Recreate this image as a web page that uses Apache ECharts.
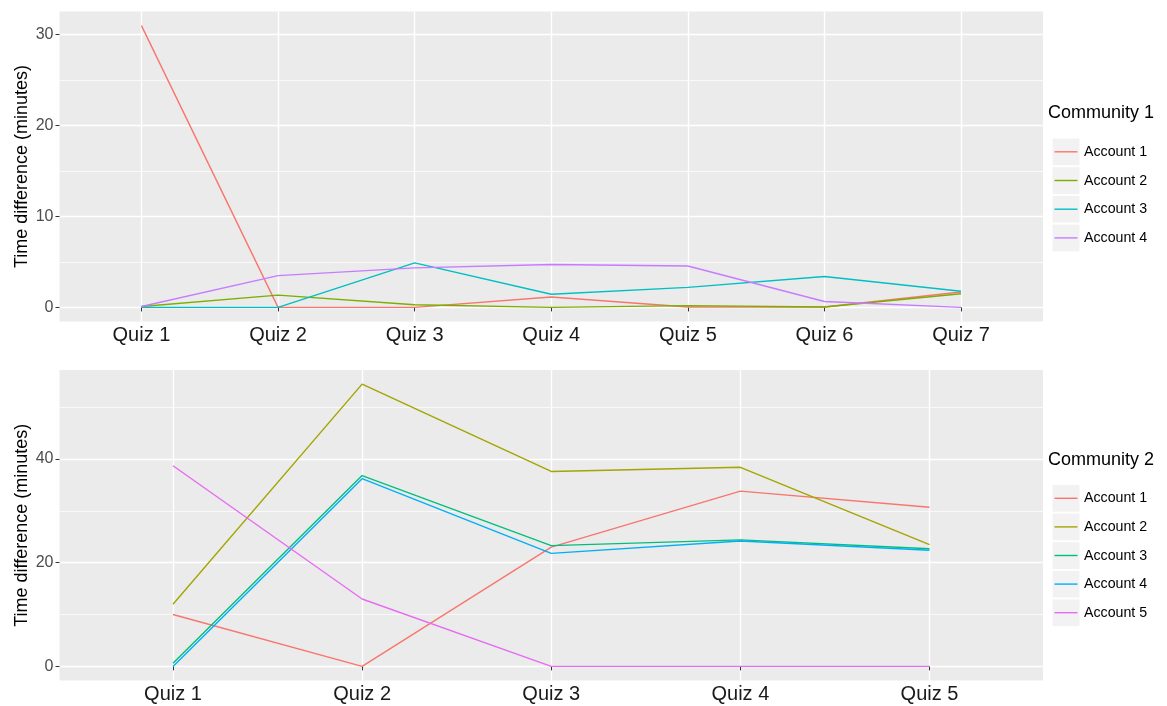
<!DOCTYPE html>
<html><head><meta charset="utf-8">
<script src="https://cdn.jsdelivr.net/npm/echarts@6/dist/echarts.min.js"></script>
<style>html,body{margin:0;padding:0;background:#fff}#c{width:1167px;height:706px}</style>
</head><body><div id="c"></div>
<script>
// ---------- data ----------
const quizzes1 = ['Quiz 1','Quiz 2','Quiz 3','Quiz 4','Quiz 5','Quiz 6','Quiz 7'];
const c1Acc1 = [31, 0, 0, 1.15, 0.05, 0.04, 1.7];
const c1Acc2 = [0.1, 1.35, 0.3, 0, 0.2, 0.05, 1.5];
const c1Acc3 = [0, 0, 4.9, 1.45, 2.2, 3.4, 1.78];
const c1Acc4 = [0.1, 3.5, 4.35, 4.72, 4.56, 0.65, 0];
const c1Names = ['Account 1','Account 2','Account 3','Account 4'];
const c1Colors = ['#F8766D','#7CAE00','#00BFC4','#C77CFF'];
const c1Title = 'Community 1';
const c1YTicks = [0, 10, 20, 30];
const c1YMinor = [5, 15, 25];

const quizzes2 = ['Quiz 1','Quiz 2','Quiz 3','Quiz 4','Quiz 5'];
const c2Acc1 = [10, 0, 23, 33.8, 30.7];
const c2Acc2 = [12, 54.45, 37.6, 38.4, 23.5];
const c2Acc3 = [0.6, 36.8, 23.3, 24.4, 22.7];
const c2Acc4 = [0, 36.2, 21.8, 24.2, 22.4];
const c2Acc5 = [38.7, 13, 0, 0, 0];
const c2Names = ['Account 1','Account 2','Account 3','Account 4','Account 5'];
const c2Colors = ['#F8766D','#A3A500','#00BF7D','#00B0F6','#E76BF3'];
const c2Title = 'Community 2';
const c2YTicks = [0, 20, 40];
const c2YMinor = [10, 30, 50];

const yTitle = 'Time difference (minutes)';

// ---------- build ----------
const FONT = '"Liberation Sans", Arial, Helvetica, sans-serif';
const panels = [
  {cats: quizzes1, series: [c1Acc1, c1Acc2, c1Acc3, c1Acc4], names: c1Names, colors: c1Colors,
   title: c1Title, ticks: c1YTicks, minor: c1YMinor, top: 11.5, height: 310, legTitleY: 113.5, legTop: 138.5, legStep: 28.7},
  {cats: quizzes2, series: [c2Acc1, c2Acc2, c2Acc3, c2Acc4, c2Acc5], names: c2Names, colors: c2Colors,
   title: c2Title, ticks: c2YTicks, minor: c2YMinor, top: 370, height: 310.5, legTitleY: 460, legTop: 485, legStep: 28.6}
];

const grid = [], xAxis = [], yAxis = [], series = [], graphic = [];
panels.forEach((p, pi) => {
  grid.push({left: 59.5, width: 983.5, top: p.top, height: p.height, show: true,
    backgroundColor: '#EBEBEB', borderWidth: 0, containLabel: false});
  const all = [].concat(...p.series);
  const lo = Math.min(...all), hi = Math.max(...all);
  const pad = (hi - lo) * 0.05;
  const idx = p.cats.map((c, i) => i + 1);
  xAxis.push({gridIndex: pi, type: 'value', min: 0.4, max: p.cats.length + 0.6,
    axisLine: {show: false},
    axisTick: {show: true, customValues: idx, length: 4, lineStyle: {color: '#333333', width: 1}},
    axisLabel: {customValues: idx, formatter: v => p.cats[Math.round(v) - 1], fontSize: 20,
      fontFamily: FONT, color: '#1A1A1A', margin: 4},
    splitLine: {show: true, lineStyle: {color: '#FFFFFF', width: 1.4}}});
  yAxis.push({gridIndex: pi, type: 'value', min: lo - pad, max: hi + pad,
    axisLine: {show: false},
    axisTick: {show: true, customValues: p.ticks, length: 4, lineStyle: {color: '#333333', width: 1}},
    axisLabel: {customValues: p.ticks, fontSize: 16, fontFamily: FONT, color: '#4D4D4D', margin: 6},
    splitLine: {show: true, lineStyle: {color: '#FFFFFF', width: 1.4}},
    name: yTitle, nameLocation: 'middle', nameGap: 28, nameMoveOverlap: false,
    nameTextStyle: {fontSize: 18, fontFamily: FONT, color: '#000000'}});
  yAxis.push({gridIndex: pi, type: 'value', min: lo - pad, max: hi + pad,
    axisLine: {show: false},
    axisTick: {show: false, customValues: p.minor},
    axisLabel: {show: false, customValues: p.minor},
    splitLine: {show: true, lineStyle: {color: '#FFFFFF', width: 0.7}}});
  p.series.forEach((arr, si) => {
    series.push({type: 'line', name: p.names[si], xAxisIndex: pi, yAxisIndex: pi * 2,
      data: arr.map((v, i) => [i + 1, v]), symbol: 'none', silent: true,
      lineStyle: {color: p.colors[si], width: 1.4}, itemStyle: {color: p.colors[si]}});
  });
  // legend
  graphic.push({type: 'text', x: 1048, y: p.legTitleY,
    style: {text: p.title, fontSize: 18, fontFamily: FONT, fill: '#000', verticalAlign: 'middle', textVerticalAlign: 'middle'}});
  p.names.forEach((n, i) => {
    const t = p.legTop + i * p.legStep;
    graphic.push({type: 'rect', shape: {x: 1052.5, y: t, width: 27, height: 26.7}, style: {fill: '#F2F2F2'}});
    graphic.push({type: 'line', shape: {x1: 1054.5, y1: t + 13.3, x2: 1077.5, y2: t + 13.3},
      style: {stroke: p.colors[i], lineWidth: 1.4}});
    graphic.push({type: 'text', x: 1084, y: t + 13.5,
      style: {text: n, fontSize: 14.2, fontFamily: FONT, fill: '#000', verticalAlign: 'middle', textVerticalAlign: 'middle'}});
  });
});

const chart = echarts.init(document.getElementById('c'), null, {renderer: 'canvas'});
chart.setOption({animation: false, backgroundColor: '#FFFFFF', grid, xAxis, yAxis, series, graphic});
</script>
</body></html>
